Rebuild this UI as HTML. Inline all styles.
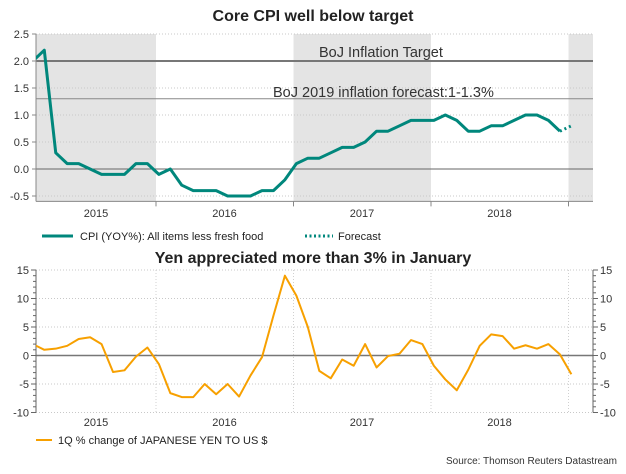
<!DOCTYPE html>
<html><head><meta charset="utf-8">
<style>
body{margin:0;background:#fff;width:626px;height:469px;overflow:hidden;font-family:"Liberation Sans",Arial,sans-serif;}
svg text{font-family:"Liberation Sans",Arial,sans-serif;}
</style></head>
<body>
<svg id="c" width="626" height="469" viewBox="0 0 626 469"></svg>
<script>
const cpiValues=[2.0,2.2,0.3,0.1,0.1,0.0,-0.1,-0.1,-0.1,0.1,0.1,-0.1,0.0,-0.3,-0.4,-0.4,-0.4,-0.5,-0.5,-0.5,-0.4,-0.4,-0.2,0.1,0.2,0.2,0.3,0.4,0.4,0.5,0.7,0.7,0.8,0.9,0.9,0.9,1.0,0.9,0.7,0.7,0.8,0.8,0.9,1.0,1.0,0.9,0.7];
const forecastValues=[0.7,0.8];
const yenValues=[2.0,1.0,1.2,1.7,2.9,3.2,2.0,-2.9,-2.6,-0.2,1.4,-1.5,-6.6,-7.3,-7.3,-5.0,-6.8,-5.0,-7.2,-3.5,-0.3,7.0,14.0,10.5,5.0,-2.7,-4.0,-0.7,-1.8,2.0,-2.1,-0.1,0.3,2.7,2.0,-1.8,-4.2,-6.1,-2.5,1.7,3.7,3.4,1.2,1.8,1.2,2.0,0.2,-3.3];
const yearLabels=["2015","2016","2017","2018"];
const cpiTicks=[2.5,2.0,1.5,1.0,0.5,0.0,-0.5];
const yenTicks=[15,10,5,0,-5,-10];
const startMonth=-10.75;

const NS="http://www.w3.org/2000/svg";
const svg=document.getElementById('c');
function el(tag,attrs,parent){const e=document.createElementNS(NS,tag);for(const k in attrs)e.setAttribute(k,attrs[k]);(parent||svg).appendChild(e);return e;}
const X0=36,X1=593,JAN15=156,MW=137.5/12;
const xm=t=>JAN15+t*MW;
const xYear=i=>JAN15+i*137.5;
const xLabel=i=>Math.max(96,xYear(i)-69);
const yT=v=>169-v*54;
const yB=v=>355.5-v*5.7;

const defs=el('defs',{});
const cp1=el('clipPath',{id:'cp1'},defs);el('rect',{x:X0,y:30,width:X1-X0,height:175},cp1);
const cp2=el('clipPath',{id:'cp2'},defs);el('rect',{x:X0,y:265,width:X1-X0,height:150},cp2);

let t=el('text',{x:313,y:21,'text-anchor':'middle','font-size':'16','font-weight':'bold',fill:'#222'});t.textContent='Core CPI well below target';

t=el('text',{x:313,y:263,'text-anchor':'middle','font-size':'16','font-weight':'bold',fill:'#222'});t.textContent='Yen appreciated more than 3% in January';


[[X0,JAN15],[xYear(1),xYear(2)],[xYear(3),X1]].forEach((s,i)=>{
 const r=el('rect',{x:s[0],y:yT(2.5),width:s[1]-s[0],height:yT(-0.6)-yT(2.5),fill:'#e4e4e4'});
 
});
cpiTicks.forEach(v=>{
 el('line',{x1:X0,x2:X1,y1:yT(v),y2:yT(v),stroke:'#c8c8c8','stroke-dasharray':'1,2'});
 const l=el('text',{x:29,y:yT(v)+4,'text-anchor':'end','font-size':'11',fill:'#333'});l.textContent=v.toFixed(1);
 
});
el('line',{x1:X0,x2:X1,y1:yT(0),y2:yT(0),stroke:'#666','stroke-width':1});
let ln=el('line',{x1:X0,x2:X1,y1:yT(2.0),y2:yT(2.0),stroke:'#777','stroke-width':2});

ln=el('line',{x1:X0,x2:X1,y1:yT(1.3),y2:yT(1.3),stroke:'#888','stroke-width':1});

t=el('text',{x:319,y:57,'font-size':'14.5',fill:'#333'});t.textContent='BoJ Inflation Target';

t=el('text',{x:273,y:97,'font-size':'14.5',fill:'#333'});t.textContent='BoJ 2019 inflation forecast:1-1.3%';

el('line',{x1:X0,x2:X0,y1:yT(2.5),y2:yT(-0.6),stroke:'#888'});
el('line',{x1:X0,x2:X1,y1:yT(-0.6),y2:yT(-0.6),stroke:'#888'});
cpiTicks.forEach(v=>el('line',{x1:X0-4,x2:X0,y1:yT(v),y2:yT(v),stroke:'#888'}));
for(let i=0;i<4;i++) el('line',{x1:xYear(i),x2:xYear(i),y1:yT(-0.6),y2:yT(-0.6)+5,stroke:'#888'});
yearLabels.forEach((y,i)=>{const l=el('text',{x:xLabel(i),y:217,'text-anchor':'middle','font-size':'11',fill:'#333'});l.textContent=y;
 });
let pts=cpiValues.map((v,i)=>xm(startMonth+i)+','+yT(v)).join(' ');
let pl=el('polyline',{points:pts,fill:'none',stroke:'#00877c','stroke-width':3,'stroke-linejoin':'round','clip-path':'url(#cp1)'});

const fs=startMonth+cpiValues.length-1;
pts=forecastValues.map((v,i)=>xm(fs+i)+','+yT(v)).join(' ');
pl=el('polyline',{points:pts,fill:'none',stroke:'#00877c','stroke-width':3,'stroke-dasharray':'2,3'});

let g=el('g',{});
el('line',{x1:42,x2:73,y1:236,y2:236,stroke:'#00877c','stroke-width':3},g);
t=el('text',{x:80,y:240,'font-size':'11',fill:'#222'},g);t.textContent='CPI (YOY%): All items less fresh food';
g=el('g',{});
el('line',{x1:305,x2:333,y1:236,y2:236,stroke:'#00877c','stroke-width':3,'stroke-dasharray':'2,2.5'},g);
t=el('text',{x:338,y:240,'font-size':'11',fill:'#222'},g);t.textContent='Forecast';

yenTicks.forEach(v=>{
 el('line',{x1:X0,x2:X1,y1:yB(v),y2:yB(v),stroke:'#c8c8c8','stroke-dasharray':'1,2'});
 let l=el('text',{x:29,y:yB(v)+4,'text-anchor':'end','font-size':'11',fill:'#333'});l.textContent=v;
 
 l=el('text',{x:600,y:yB(v)+4,'font-size':'11',fill:'#333'});l.textContent=v;
 
});
for(let i=0;i<4;i++) el('line',{x1:xYear(i),x2:xYear(i),y1:yB(15),y2:yB(-10),stroke:'#d0d0d0','stroke-dasharray':'1,2'});
el('line',{x1:X0,x2:X1,y1:yB(0),y2:yB(0),stroke:'#777','stroke-width':1.5});
el('line',{x1:X0,x2:X0,y1:yB(15),y2:yB(-10),stroke:'#666'});
el('line',{x1:X1,x2:X1,y1:yB(15),y2:yB(-10),stroke:'#666'});
for(let v=-10;v<=15;v++){const w=v%5===0?5:3;
 el('line',{x1:X0-w,x2:X0,y1:yB(v),y2:yB(v),stroke:'#666'});
 el('line',{x1:X1,x2:X1+w,y1:yB(v),y2:yB(v),stroke:'#666'});}
yearLabels.forEach((y,i)=>{const l=el('text',{x:xLabel(i),y:426,'text-anchor':'middle','font-size':'11',fill:'#333'});l.textContent=y;
 });
pts=yenValues.map((v,i)=>xm(startMonth+i)+','+yB(v)).join(' ');
pl=el('polyline',{points:pts,fill:'none',stroke:'#f7a000','stroke-width':2,'stroke-linejoin':'round','clip-path':'url(#cp2)'});

g=el('g',{});
el('line',{x1:36,x2:52,y1:440,y2:440,stroke:'#f7a000','stroke-width':2},g);
t=el('text',{x:58,y:444,'font-size':'11',fill:'#222'},g);t.textContent='1Q % change of JAPANESE YEN TO US $';
t=el('text',{x:617,y:464,'text-anchor':'end','font-size':'10',fill:'#333'});t.textContent='Source: Thomson Reuters Datastream';

</script>
</body></html>
